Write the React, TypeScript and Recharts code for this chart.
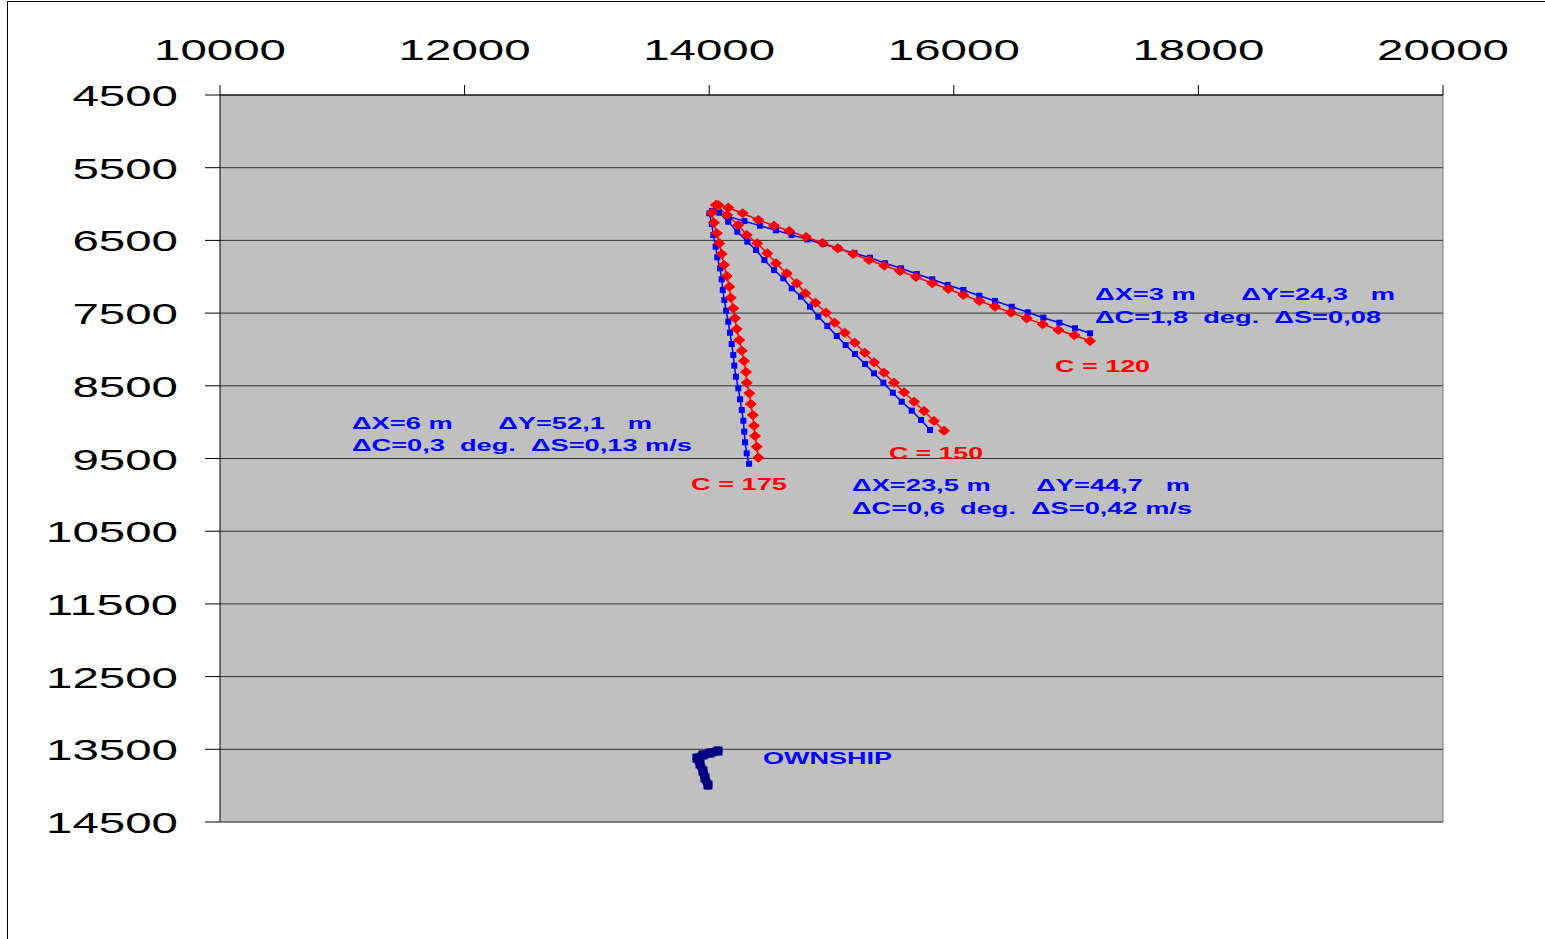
import { CartesianGrid, LineChart, Line, ReferenceDot, ReferenceLine, XAxis, YAxis } from "recharts";

const xTicks = [10000, 12000, 14000, 16000, 18000, 20000];
const yTicks = [4500, 5500, 6500, 7500, 8500, 9500, 10500, 11500, 12500, 13500, 14500];

// target tracks, course 120
const red120 = [
  [14075, 6013], [14156, 6050], [14274, 6127], [14402, 6219], [14530, 6298], [14655, 6371], [14792, 6453],
  [14928, 6536], [15051, 6609], [15178, 6687], [15307, 6770], [15432, 6848], [15560, 6921], [15691, 7003],
  [15824, 7090], [15955, 7168], [16078, 7251], [16209, 7334], [16337, 7412], [16468, 7494], [16596, 7572],
  [16727, 7654], [16855, 7732], [16986, 7805], [17114, 7884],
];
const blue120 = [
  [14031, 6109], [14160, 6173], [14288, 6235], [14416, 6298], [14545, 6361], [14673, 6424], [14802, 6486],
  [14930, 6549], [15058, 6613], [15187, 6675], [15315, 6738], [15438, 6815], [15569, 6884], [15697, 6962],
  [15824, 7035], [15950, 7113], [16078, 7182], [16209, 7261], [16337, 7334], [16474, 7412], [16605, 7489],
  [16732, 7563], [16863, 7632], [16991, 7709], [17114, 7778],
];

// course 150
const red150 = [
  [14056, 6013], [14146, 6151], [14238, 6288], [14307, 6426], [14393, 6540], [14475, 6677], [14546, 6815],
  [14634, 6953], [14716, 7090], [14786, 7228], [14868, 7357], [14955, 7494], [15026, 7632], [15108, 7770],
  [15190, 7907], [15272, 8045], [15348, 8177], [15430, 8320], [15511, 8457], [15593, 8589], [15675, 8719],
  [15757, 8847], [15838, 8984], [15920, 9118],
];
const blue150 = [
  [14023, 6096], [14083, 6119], [14156, 6243], [14230, 6380], [14312, 6518], [14383, 6632], [14451, 6770],
  [14530, 6907], [14606, 7021], [14675, 7159], [14751, 7274], [14824, 7412], [14892, 7549], [14966, 7677],
  [15043, 7815], [15116, 7939], [15192, 8063], [15274, 8200], [15348, 8328], [15424, 8457], [15501, 8595],
  [15574, 8719], [15656, 8842], [15732, 8970], [15806, 9108],
];

// course 175
const red175 = [
  [14056, 6013], [14021, 6119], [14039, 6257], [14062, 6402], [14083, 6540], [14102, 6687], [14121, 6838],
  [14143, 6990], [14165, 7137], [14176, 7288], [14197, 7434], [14211, 7571], [14225, 7719], [14246, 7870],
  [14266, 8017], [14285, 8159], [14301, 8310], [14307, 8457], [14328, 8603], [14340, 8750], [14356, 8902],
  [14366, 9049], [14375, 9190], [14389, 9338], [14402, 9489],
];
const blue175 = [
  [14001, 6127], [14021, 6274], [14034, 6426], [14053, 6587], [14066, 6732], [14089, 6884], [14102, 7035],
  [14111, 7182], [14124, 7320], [14138, 7467], [14156, 7618], [14170, 7770], [14184, 7925], [14197, 8076],
  [14205, 8223], [14219, 8375], [14238, 8534], [14252, 8686], [14266, 8833], [14279, 8980], [14287, 9131],
  [14293, 9277], [14307, 9429], [14326, 9572],
];

const ownship = [
  [13990, 13991], [13966, 13895], [13949, 13798], [13925, 13702], [13900, 13620], [13949, 13578],
  [14007, 13551], [14072, 13523],
];

const RED = "#ff0000";
const BLUE = "#0000ff";
const NAVY = "#000080";
const FONT = "'Liberation Sans', Arial, sans-serif";

const notes = [
  { x: 17155, y: 7320, text: "ΔX=3 m      ΔY=24,3   m", len: 300, color: BLUE },
  { x: 17155, y: 7636, text: "ΔC=1,8  deg.  ΔS=0,08", len: 286, color: BLUE },
  { x: 16828, y: 8310, text: "C = 120", len: 95, color: RED },
  { x: 11079, y: 9094, text: "ΔX=6 m      ΔY=52,1   m", len: 300, color: BLUE },
  { x: 11079, y: 9397, text: "ΔC=0,3  deg.  ΔS=0,13 m/s", len: 340, color: BLUE },
  { x: 15470, y: 9507, text: "C = 150", len: 94, color: RED },
  { x: 13851, y: 9933, text: "C = 175", len: 96, color: RED },
  { x: 15168, y: 9947, text: "ΔX=23,5 m      ΔY=44,7   m", len: 338, color: BLUE },
  { x: 15168, y: 10263, text: "ΔC=0,6  deg.  ΔS=0,42 m/s", len: 340, color: BLUE },
  { x: 14440, y: 13702, text: "OWNSHIP", len: 129, color: BLUE },
];

const pts = (a: number[][]) => a.map(([x, y]) => ({ x, y }));

const Diamond = (p: any) => {
  const { cx, cy } = p;
  if (cx == null || cy == null) return null;
  return <polygon points={`${cx - 5.5},${cy} ${cx},${cy - 4.5} ${cx + 5.5},${cy} ${cx},${cy + 4.5}`} fill={RED} stroke={RED} />;
};
const Square = (p: any) => {
  const { cx, cy } = p;
  if (cx == null || cy == null) return null;
  return <rect x={cx - 3} y={cy - 3} width={6} height={6} fill={BLUE} />;
};
const NavyDot = (p: any) => {
  const { cx, cy } = p;
  if (cx == null || cy == null) return null;
  return <rect x={cx - 4.5} y={cy - 4.5} width={9} height={9} fill={NAVY} />;
};

const XTick = (p: any) => {
  const s = String(p.payload.value);
  return (
    <text x={p.x} y={60} textAnchor="middle" fontFamily={FONT} fontSize={30} fill="#000"
      textLength={s.length * 26.4} lengthAdjust="spacingAndGlyphs">{s}</text>
  );
};
const YTick = (p: any) => {
  const s = String(p.payload.value);
  return (
    <text x={178} y={p.y + 11} textAnchor="end" fontFamily={FONT} fontSize={30} fill="#000"
      textLength={s.length * 26.4} lengthAdjust="spacingAndGlyphs">{s}</text>
  );
};

export default function App() {
  return (
    <div style={{ position: "absolute", left: 0, top: 0, width: 1545, height: 939, background: "#fff", overflow: "hidden" }}>
      <div style={{ position: "absolute", left: 7, top: 1, width: 1600, height: 1000, borderLeft: "1.5px solid #000", borderTop: "1.5px solid #000" }} />
      <LineChart width={1545} height={939} margin={{ top: 0, right: 102, bottom: 117, left: 0 }} style={{ position: "absolute", left: 0, top: 0 }}>
        <CartesianGrid vertical={false} horizontal stroke="#333" fill="#c0c0c0" fillOpacity={1} />
        <XAxis type="number" dataKey="x" orientation="top" domain={[10000, 20000]} ticks={xTicks} height={95}
          tickSize={10} stroke="#000" tick={XTick} interval={0} allowDataOverflow />
        <YAxis type="number" dataKey="y" domain={[4500, 14500]} ticks={yTicks} reversed width={220}
          tickSize={15} stroke="#000" tick={YTick} interval={0} allowDataOverflow />
        <ReferenceLine x={20000} stroke="#777" />
        <ReferenceLine y={14500} stroke="#777" />
        <Line data={pts(blue120)} dataKey="y" stroke={BLUE} strokeWidth={1.5} dot={Square} isAnimationActive={false} />
        <Line data={pts(blue150)} dataKey="y" stroke={BLUE} strokeWidth={1.5} dot={Square} isAnimationActive={false} />
        <Line data={pts(blue175)} dataKey="y" stroke={BLUE} strokeWidth={1.5} dot={Square} isAnimationActive={false} />
        <Line data={pts(red120)} dataKey="y" stroke={RED} strokeWidth={1.5} dot={Diamond} isAnimationActive={false} />
        <Line data={pts(red150)} dataKey="y" stroke={RED} strokeWidth={1.5} dot={Diamond} isAnimationActive={false} />
        <Line data={pts(red175)} dataKey="y" stroke={RED} strokeWidth={1.5} dot={Diamond} isAnimationActive={false} />
        <Line data={pts(ownship)} dataKey="y" stroke={NAVY} strokeWidth={9} strokeLinejoin="round" strokeLinecap="round" dot={NavyDot} isAnimationActive={false} />
        {notes.map((n, i) => (
          <ReferenceDot key={i} x={n.x} y={n.y} r={0}
            shape={(p: any) => (
              <text x={p.cx} y={p.cy} fontFamily={FONT} fontWeight="bold" fontSize={16} fill={n.color}
                textLength={n.len} lengthAdjust="spacingAndGlyphs" style={{ whiteSpace: "pre" }}>{n.text}</text>
            )} />
        ))}
      </LineChart>
    </div>
  );
}
